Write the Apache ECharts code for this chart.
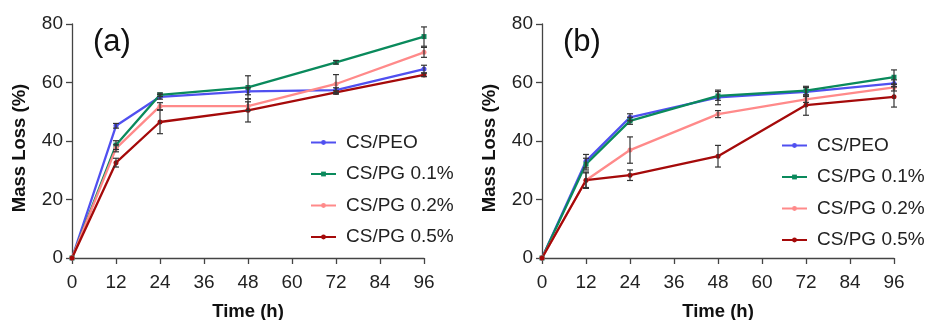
<!DOCTYPE html>
<html>
<head>
<meta charset="utf-8">
<script src="https://cdn.jsdelivr.net/npm/echarts@6/dist/echarts.min.js"></script>
<style>
  html, body { margin: 0; padding: 0; background: #fff; }
  #chart { width: 926px; height: 320px; }
</style>
</head>
<body>
<div id="chart"></div>
<script>
const times = [0, 12, 24, 48, 72, 96]
const seriesNames = ['CS/PEO', 'CS/PG 0.1%', 'CS/PG 0.2%', 'CS/PG 0.5%']
const colors = ['#5050f0', '#0a8a5c', '#ff8a8a', '#a50a0a']

// panel (a)
const aPeo = [0, 45.2, 55.1, 57.0, 57.4, 64.6]
const aPg01 = [0, 38.6, 55.8, 58.3, 66.9, 75.7]
const aPg02 = [0, 37.5, 51.9, 51.9, 59.5, 70.3]
const aPg05 = [0, 32.6, 46.5, 50.5, 56.6, 62.6]
const aPeoErr = [0, 0.8, 0.8, 1.2, 0.8, 1.3]
const aPg01Err = [0, 1.5, 0.6, 4.0, 0.6, 3.3]
const aPg02Err = [0, 1.2, 1.2, 1.5, 3.2, 1.7]
const aPg05Err = [0, 1.5, 4.0, 4.0, 0.6, 0.6]

// panel (b)
const bPeo = [0, 33.1, 48.1, 54.9, 56.8, 59.7]
const bPg01 = [0, 32.1, 46.9, 55.4, 57.2, 61.8]
const bPg02 = [0, 26.6, 36.9, 49.2, 54.2, 58.3]
const bPg05 = [0, 26.6, 28.3, 34.8, 52.3, 55.1]
const bPeoErr = [0, 2.3, 1.2, 2.5, 1.5, 1.2]
const bPg01Err = [0, 2.0, 1.2, 1.5, 1.5, 2.5]
const bPg02Err = [0, 2.5, 4.5, 1.2, 1.0, 1.2]
const bPg05Err = [0, 2.8, 1.8, 3.7, 3.5, 3.5]

const font = 'Liberation Sans, Arial, sans-serif'
const symbols = ['circle', 'rect', 'circle', 'circle']

const panels = [
  { values: [aPeo, aPg01, aPg02, aPg05], errs: [aPeoErr, aPg01Err, aPg02Err, aPg05Err] },
  { values: [bPeo, bPg01, bPg02, bPg05], errs: [bPeoErr, bPg01Err, bPg02Err, bPg05Err] }
]

const axisStyle = { lineStyle: { color: '#444', width: 1.3 } }

const xAxes = [0, 1].map(i => ({
  type: 'value', gridIndex: i, min: 0, max: 96, interval: 12,
  name: 'Time (h)', nameLocation: 'middle', nameGap: 44,
  nameTextStyle: { fontFamily: font, fontSize: 18.5, fontWeight: 'bold', color: '#111' },
  axisLine: axisStyle,
  axisTick: { show: true, length: 6, lineStyle: { color: '#444', width: 1.3 } },
  axisLabel: { fontFamily: font, fontSize: 19, color: '#222', margin: 15 },
  splitLine: { show: false }
}))

const yAxes = [0, 1].map(i => ({
  type: 'value', gridIndex: i, min: 0, max: 80, interval: 20,
  name: 'Mass Loss (%)', nameLocation: 'middle', nameGap: 43,
  nameTextStyle: { fontFamily: font, fontSize: 18.5, fontWeight: 'bold', color: '#111', padding: [0, 14, 0, 0] },
  axisLine: { show: true, ...axisStyle },
  axisTick: { show: true, length: 6, lineStyle: { color: '#444', width: 1.3 } },
  axisLabel: { fontFamily: font, fontSize: 19, color: '#222', margin: 9 },
  splitLine: { show: false }
}))

const series = []
panels.forEach((p, pi) => {
  p.values.forEach((vals, si) => {
    series.push({
      name: seriesNames[si], type: 'line', xAxisIndex: pi, yAxisIndex: pi,
      data: times.map((t, k) => [t, vals[k]]),
      symbol: symbols[si], symbolSize: 5,
      itemStyle: { color: colors[si] },
      lineStyle: { color: colors[si], width: 2.3 },
      z: 2
    })
  })
  p.values.forEach((vals, si) => {
    series.push({
      type: 'custom', xAxisIndex: pi, yAxisIndex: pi,
      data: times.map((t, k) => [t, vals[k] - p.errs[si][k], vals[k] + p.errs[si][k]]),
      renderItem: (params, api) => {
        if (api.value(2) - api.value(1) < 0.01) return null
        const lo = api.coord([api.value(0), api.value(1)])
        const hi = api.coord([api.value(0), api.value(2)])
        const w = 3
        const st = { stroke: '#333', lineWidth: 1.2 }
        return {
          type: 'group', children: [
            { type: 'line', shape: { x1: lo[0], y1: lo[1], x2: hi[0], y2: hi[1] }, style: st },
            { type: 'line', shape: { x1: lo[0] - w, y1: lo[1], x2: lo[0] + w, y2: lo[1] }, style: st },
            { type: 'line', shape: { x1: hi[0] - w, y1: hi[1], x2: hi[0] + w, y2: hi[1] }, style: st }
          ]
        }
      },
      z: 3, silent: true
    })
  })
})

const legendBase = {
  orient: 'vertical', data: seriesNames, itemWidth: 25, itemHeight: 6, itemGap: 12.5,
  textStyle: { fontFamily: font, fontSize: 19, color: '#222', padding: [0, 0, 0, 5] }
}

const chart = echarts.init(document.getElementById('chart'))
chart.setOption({
  animation: false,
  title: [
    { text: '(a)', left: 88, top: 22, textStyle: { fontFamily: font, fontSize: 31, fontWeight: 'normal', color: '#111' } },
    { text: '(b)', left: 558, top: 22, textStyle: { fontFamily: font, fontSize: 31, fontWeight: 'normal', color: '#111' } }
  ],
  grid: [
    { left: 72, top: 24, width: 352, height: 234, outerBoundsMode: 'none' },
    { left: 542, top: 24, width: 352, height: 234, outerBoundsMode: 'none' }
  ],
  xAxis: xAxes,
  yAxis: yAxes,
  legend: [
    { ...legendBase, left: 305, top: 128 },
    { ...legendBase, left: 776, top: 131 }
  ],
  series: series
})
</script>
</body>
</html>
